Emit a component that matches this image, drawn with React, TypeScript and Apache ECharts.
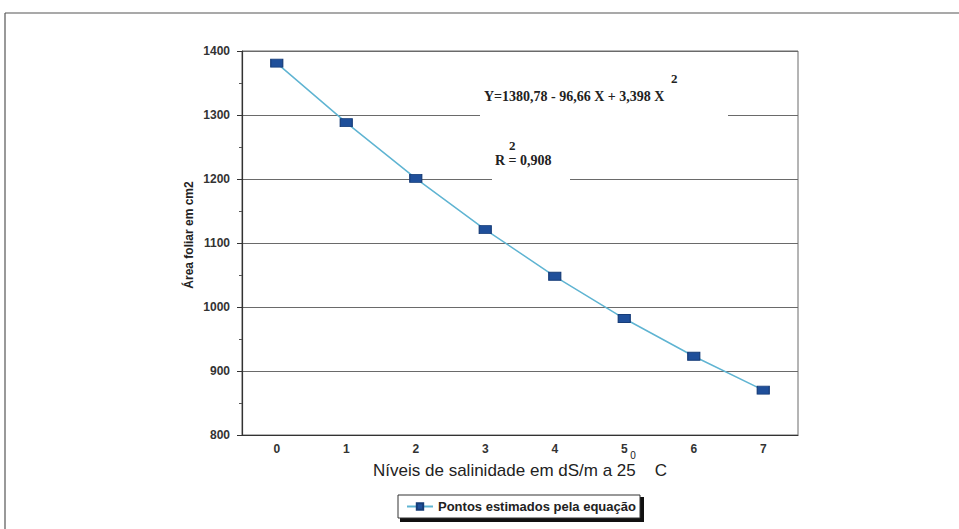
import React, { useEffect, useRef } from "react";
import * as echarts from "echarts";

const categories = ["0", "1", "2", "3", "4", "5", "6", "7"];
const estimatedPoints = [1381, 1288, 1201, 1121, 1048, 982, 923, 870];
const yTicks = { min: 800, max: 1400, interval: 100 };
const seriesName = "Pontos estimados pela equação";
const equationText = "Y=1380,78 - 96,66 X + 3,398 X";
const r2Text = "R = 0,908";
const xTitle = "Níveis de salinidade em dS/m a 25    C";
const yTitle = "Área foliar em cm2";

export default function App() {
  const ref = useRef<HTMLDivElement>(null);
  useEffect(() => {
    document.body.style.margin = "0";
    if (!ref.current) return;
    const chart = echarts.init(ref.current, null, { renderer: "svg" });
    const sans = "'Liberation Sans', Arial, sans-serif";
    const serif = "'Liberation Serif', 'Times New Roman', serif";
    chart.setOption({
      animation: false,
      backgroundColor: "#ffffff",
      grid: { left: 242, top: 51, width: 556, height: 384, show: true, borderColor: "#6a6a6a", borderWidth: 1, backgroundColor: "transparent" },
      xAxis: [
        {
          type: "category",
          data: categories,
          boundaryGap: true,
          axisLine: { lineStyle: { color: "#333", width: 1.2 } },
          axisTick: { alignWithLabel: true, length: 4, lineStyle: { color: "#333" } },
          axisLabel: { color: "#333", fontFamily: sans, fontSize: 12, fontWeight: "bold", margin: 8 },
          splitLine: { show: false },
        },
        {
          type: "category",
          data: categories,
          position: "bottom",
          boundaryGap: true,
          axisLine: { show: false },
          axisTick: { alignWithLabel: true, inside: true, length: 3, lineStyle: { color: "#333" } },
          axisLabel: { show: false },
        },
      ],
      yAxis: {
        type: "value",
        min: yTicks.min,
        max: yTicks.max,
        interval: yTicks.interval,
        axisLine: { show: true, lineStyle: { color: "#333", width: 1.2 } },
        axisTick: { show: true, length: 5, lineStyle: { color: "#333" } },
        minorTick: { show: true, splitNumber: 2, length: 3, lineStyle: { color: "#555" } },
        axisLabel: { color: "#333", fontFamily: sans, fontSize: 12, fontWeight: "bold", margin: 12, formatter: (v: number) => String(v) },
        splitLine: { show: true, lineStyle: { color: "#6a6a6a", width: 1 } },
      },
      legend: {
        data: [seriesName],
        left: 400,
        top: 496,
        padding: [4, 4, 4, 6],
        itemWidth: 26,
        itemHeight: 8,
        itemGap: 4,
        borderWidth: 0,
        textStyle: { fontFamily: sans, fontSize: 13, fontWeight: "bold", color: "#222", padding: [0, 0, 0, 0] },
        z: 20,
      },
      series: [
        {
          name: seriesName,
          type: "line",
          data: estimatedPoints,
          symbol: "rect",
          symbolSize: [12, 8],
          lineStyle: { color: "#5fb4d2", width: 1.5 },
          itemStyle: { color: "#1f4f9a", borderColor: "#163c78", borderWidth: 1 },
          z: 5,
        },
      ],
      graphic: [
        { type: "line", shape: { x1: 5, y1: 13, x2: 959, y2: 13 }, style: { stroke: "#555", lineWidth: 1.2 } },
        { type: "line", shape: { x1: 5, y1: 13, x2: 5, y2: 529 }, style: { stroke: "#555", lineWidth: 1.2 } },
        { type: "rect", z: 1, shape: { x: 480, y: 62, width: 248, height: 62 }, style: { fill: "#fff" } },
        { type: "rect", z: 1, shape: { x: 492, y: 134, width: 78, height: 52 }, style: { fill: "#fff" } },
        { type: "text", z: 10, x: 484, y: 96, style: { text: equationText, font: `bold 14px ${serif}`, fill: "#222", textVerticalAlign: "middle" } },
        { type: "text", z: 10, x: 671, y: 78, style: { text: "2", font: `bold 13px ${serif}`, fill: "#222", textVerticalAlign: "middle" } },
        { type: "text", z: 10, x: 495, y: 160, style: { text: r2Text, font: `bold 14px ${serif}`, fill: "#222", textVerticalAlign: "middle" } },
        { type: "text", z: 10, x: 509, y: 145, style: { text: "2", font: `bold 13px ${serif}`, fill: "#222", textVerticalAlign: "middle" } },
        { type: "text", z: 10, x: 520, y: 470, style: { text: xTitle, font: `17px ${sans}`, fill: "#222", textAlign: "center", textVerticalAlign: "middle" } },
        { type: "text", z: 10, x: 633, y: 455, style: { text: "0", font: `10px ${sans}`, fill: "#222", textAlign: "center", textVerticalAlign: "middle" } },
        { type: "text", z: 10, x: 189, y: 235, rotation: Math.PI / 2, style: { text: yTitle, font: `bold 12px ${sans}`, fill: "#222", textAlign: "center", textVerticalAlign: "middle" } },
        { type: "rect", z: 0, shape: { x: 400, y: 497, width: 244, height: 25 }, style: { fill: "#111" } },
        { type: "rect", z: 0, shape: { x: 398, y: 495, width: 242, height: 23 }, style: { fill: "#fff", stroke: "#333", lineWidth: 1 } },
      ],
    });
    return () => chart.dispose();
  }, []);
  return <div ref={ref} style={{ width: 959, height: 529, overflow: "hidden" }} />;
}
